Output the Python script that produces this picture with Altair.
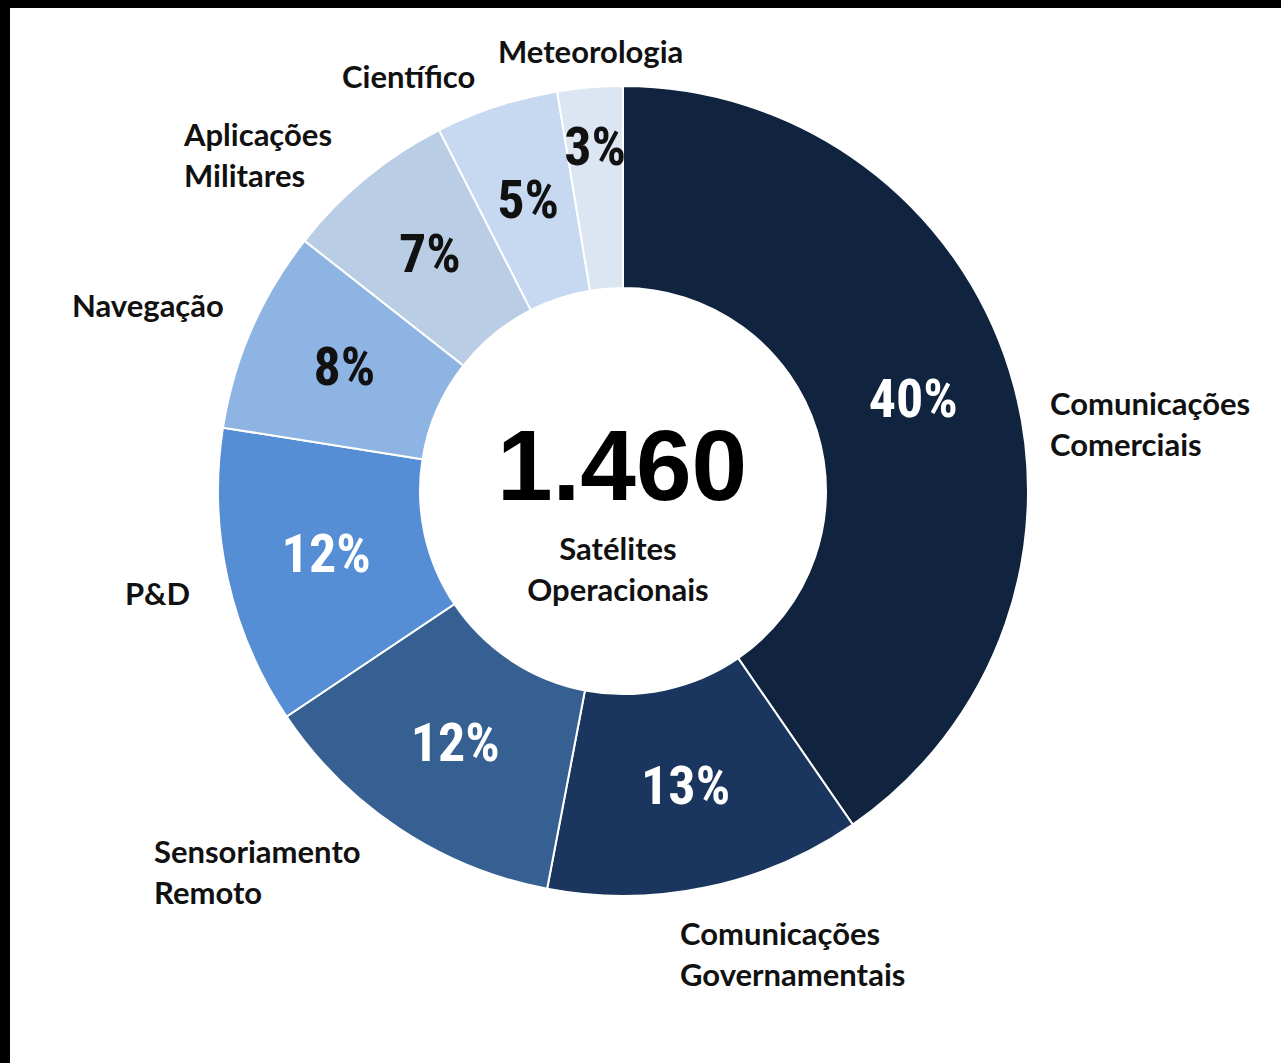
import math
import altair as alt
import pandas as pd

# ---- data ----
categories = ["Comunicações Comerciais", "Comunicações Governamentais", "Sensoriamento Remoto",
              "P&D", "Navegação", "Aplicações Militares", "Científico", "Meteorologia"]
shares = [40.4, 12.6, 12.6, 11.9, 8.1, 6.9, 4.9, 2.6]
pct_labels = ["40%", "13%", "12%", "12%", "8%", "7%", "5%", "3%"]
label_lines = ["Comunicações\nComerciais", "Comunicações\nGovernamentais", "Sensoriamento\nRemoto",
               "P&D", "Navegação", "Aplicações\nMilitares", "Científico", "Meteorologia"]
colors = ["#10243f", "#1a365e", "#366092", "#558ed5", "#8db4e2", "#b9cde5", "#c6d9f1", "#dce6f2"]
total_label = "1.460"
center_caption = "Satélites\nOperacionais"

# ---- layout (styling, not data) ----
CX, CY = 613, 483
R_IN, R_OUT = 203, 405
label_offsets = {  # left/baseline anchor of outer labels, relative to pie centre
    "Comunicações Comerciais": (427, -76),
    "Comunicações Governamentais": (57, 454),
    "Sensoriamento Remoto": (-469, 372),
    "P&D": (-498, 114),
    "Navegação": (-551, -174),
    "Aplicações Militares": (-439, -345),
    "Científico": (-281, -403),
    "Meteorologia": (-125, -428),
}

df = pd.DataFrame({
    "idx": list(range(len(categories))),
    "cat": categories,
    "share": shares,
    "pct": pct_labels,
    "lab": label_lines,
})
df["lx"] = [CX + label_offsets[c][0] for c in categories]
df["ly"] = [CY + label_offsets[c][1] for c in categories]

arcs = alt.Chart(df).mark_arc(innerRadius=R_IN, outerRadius=R_OUT, stroke="white", strokeWidth=2).encode(
    theta=alt.Theta("share:Q", stack=True),
    order=alt.Order("idx:Q"),
    x=alt.value(CX),
    y=alt.value(CY),
    color=alt.Color("cat:N", scale=alt.Scale(domain=categories, range=colors), legend=None),
)

pct_font = ", ".join(["Liberation Sans Narrow", "Roboto Condensed", "DejaVu Sans Condensed", "sans-serif"])

pct_base = alt.Chart(df).transform_joinaggregate(
    total="sum(share)"
).transform_window(
    cum="sum(share)", sort=[alt.SortField("idx", order="ascending")], frame=[None, 0]
).transform_calculate(
    mid=f"(datum.cum - datum.share / 2) / datum.total * {2 * math.pi}",
    pr="datum.idx == 7 ? 343 : 304",
    tw="datum.idx < 4 ? datum.pct : ''",
    tb="datum.idx >= 4 ? datum.pct : ''",
).encode(
    theta=alt.Theta("mid:Q", scale=None),
    radius=alt.Radius("pr:Q", scale=None),
    x=alt.value(CX),
    y=alt.value(CY),
)

pct_white = pct_base.mark_text(font=pct_font, fontSize=54, fontWeight="bold", color="white",
                               align="center", baseline="middle").encode(text="tw:N")
pct_black = pct_base.mark_text(font=pct_font, fontSize=54, fontWeight="bold", color="#111111",
                               align="center", baseline="middle").encode(text="tb:N")

outer = alt.Chart(df).mark_text(font="Lato", fontSize=31, fontWeight="bold", color="#111111",
                                align="left", baseline="alphabetic", lineBreak="\n",
                                lineHeight=41).encode(
    x=alt.X("lx:Q", scale=None),
    y=alt.Y("ly:Q", scale=None),
    text="lab:N",
)

center_df = pd.DataFrame({"t": [total_label], "c": [center_caption]})
big = alt.Chart(center_df).mark_text(font="Liberation Sans", fontSize=100, fontWeight="bold",
                                     color="black", align="center", baseline="alphabetic").encode(
    x=alt.value(CX - 1), y=alt.value(CY + 9), text="t:N"
)
cap = alt.Chart(center_df).mark_text(font="Lato", fontSize=31, fontWeight="bold", color="#111111",
                                     align="center", baseline="alphabetic", lineBreak="\n",
                                     lineHeight=41).encode(
    x=alt.value(CX - 5), y=alt.value(CY + 69), text="c:N"
)

chart = alt.layer(arcs, pct_white, pct_black, outer, big, cap).properties(
    width=1271, height=1055,
    background="black",
    padding={"left": 10, "top": 8, "right": 0, "bottom": 0},
    autosize=alt.AutoSizeParams(type="none"),
).configure_view(fill="white", strokeWidth=0)

chart.save("out.html", embed_options={"renderer": "svg", "actions": False})
